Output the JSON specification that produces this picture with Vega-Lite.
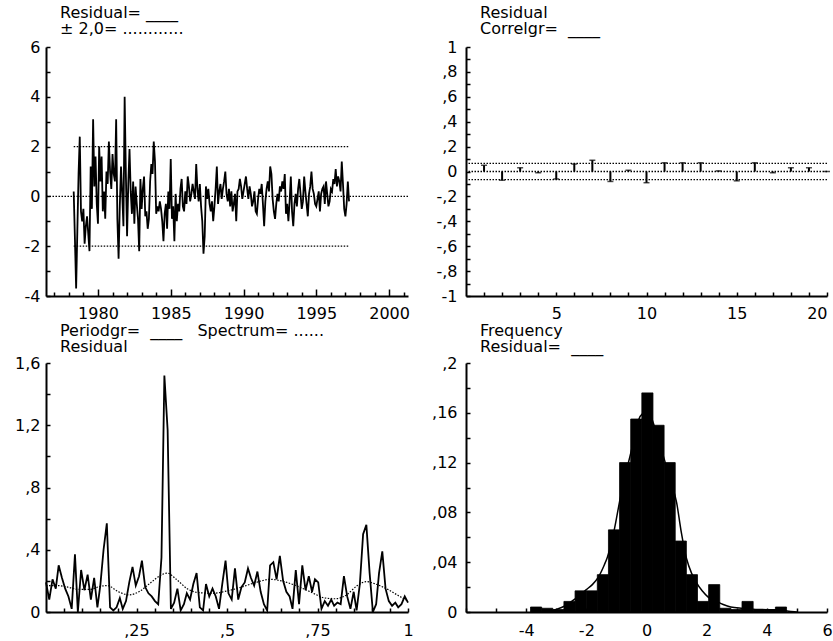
{
  "$schema": "https://vega.github.io/schema/vega-lite/v6.json",
  "padding": {"left": 14, "top": 5, "right": 5, "bottom": 5},
  "columns": 2,
  "spacing": {"row": 67, "column": 58},
  "bounds": "flush",
  "config": {
    "view": {"stroke": null},
    "font": "DejaVu Sans",
    "axis": {"domainColor": "black", "domainWidth": 2, "tickColor": "black", "tickWidth": 1.5, "tickSize": -4, "labelFont": "DejaVu Sans", "labelFontSize": 16, "labelColor": "black", "grid": false, "labelFlush": false},
    "axisX": {"labelPadding": 14},
    "axisY": {"labelPadding": 10},
    "title": {"font": "DejaVu Sans", "fontSize": 16, "fontWeight": "normal", "color": "black", "anchor": "start", "frame": "group", "dx": 14, "lineHeight": 16, "offset": 2}
  },
  "datasets": {
    "resid": [
      {"t":1978.333,"r":0.2},{"t":1978.417,"r":-1.7},{"t":1978.5,"r":-3.7},{"t":1978.583,"r":-1.4},{"t":1978.667,"r":0.9},{"t":1978.75,"r":2.4},{"t":1978.833,"r":-0.6},{"t":1978.917,"r":-1.0},
      {"t":1979.0,"r":-0.5},{"t":1979.083,"r":-1.9},{"t":1979.167,"r":-1.2},{"t":1979.25,"r":-0.8},{"t":1979.333,"r":-1.5},{"t":1979.417,"r":-2.2},{"t":1979.5,"r":1.2},{"t":1979.583,"r":-0.5},{"t":1979.667,"r":3.1},{"t":1979.75,"r":0.4},{"t":1979.833,"r":1.6},{"t":1979.917,"r":-0.3},
      {"t":1980.0,"r":-1.1},{"t":1980.083,"r":2.0},{"t":1980.167,"r":0.6},{"t":1980.25,"r":1.6},{"t":1980.333,"r":-0.6},{"t":1980.417,"r":0.2},{"t":1980.5,"r":-0.9},{"t":1980.583,"r":1.0},{"t":1980.667,"r":0.5},{"t":1980.75,"r":2.2},{"t":1980.833,"r":1.0},{"t":1980.917,"r":0.3},
      {"t":1981.0,"r":1.7},{"t":1981.083,"r":0.9},{"t":1981.167,"r":0.6},{"t":1981.25,"r":3.1},{"t":1981.333,"r":-0.9},{"t":1981.417,"r":-2.5},{"t":1981.5,"r":-0.4},{"t":1981.583,"r":1.2},{"t":1981.667,"r":0.1},{"t":1981.75,"r":-1.2},{"t":1981.833,"r":4.0},{"t":1981.917,"r":0.9},
      {"t":1982.0,"r":-1.6},{"t":1982.083,"r":0.5},{"t":1982.167,"r":1.9},{"t":1982.25,"r":0.2},{"t":1982.333,"r":-0.7},{"t":1982.417,"r":0.6},{"t":1982.5,"r":-1.1},{"t":1982.583,"r":0.4},{"t":1982.667,"r":-0.3},{"t":1982.75,"r":-0.9},{"t":1982.833,"r":-2.2},{"t":1982.917,"r":0.7},
      {"t":1983.0,"r":-0.5},{"t":1983.083,"r":0.3},{"t":1983.167,"r":0.8},{"t":1983.25,"r":-0.8},{"t":1983.333,"r":-0.6},{"t":1983.417,"r":-1.3},{"t":1983.5,"r":-0.9},{"t":1983.583,"r":0.6},{"t":1983.667,"r":1.3},{"t":1983.75,"r":0.9},{"t":1983.833,"r":2.2},{"t":1983.917,"r":1.4},
      {"t":1984.0,"r":-0.7},{"t":1984.083,"r":-0.4},{"t":1984.167,"r":-0.6},{"t":1984.25,"r":-0.2},{"t":1984.333,"r":-0.5},{"t":1984.417,"r":-1.0},{"t":1984.5,"r":-1.8},{"t":1984.583,"r":-0.7},{"t":1984.667,"r":-0.3},{"t":1984.75,"r":-1.3},{"t":1984.833,"r":0.2},{"t":1984.917,"r":-0.5},
      {"t":1985.0,"r":1.5},{"t":1985.083,"r":-0.9},{"t":1985.167,"r":-0.4},{"t":1985.25,"r":-1.8},{"t":1985.333,"r":0.1},{"t":1985.417,"r":-1.0},{"t":1985.5,"r":-0.3},{"t":1985.583,"r":-0.6},{"t":1985.667,"r":0.3},{"t":1985.75,"r":0.7},{"t":1985.833,"r":-0.4},{"t":1985.917,"r":-0.6},
      {"t":1986.0,"r":0.2},{"t":1986.083,"r":-0.3},{"t":1986.167,"r":0.8},{"t":1986.25,"r":0.4},{"t":1986.333,"r":-0.2},{"t":1986.417,"r":0.1},{"t":1986.5,"r":0.5},{"t":1986.583,"r":0.2},{"t":1986.667,"r":-0.1},{"t":1986.75,"r":1.3},{"t":1986.833,"r":0.3},{"t":1986.917,"r":-0.2},
      {"t":1987.0,"r":0.5},{"t":1987.083,"r":-0.4},{"t":1987.167,"r":-1.0},{"t":1987.25,"r":-2.3},{"t":1987.333,"r":-1.6},{"t":1987.417,"r":0.4},{"t":1987.5,"r":-0.1},{"t":1987.583,"r":0.3},{"t":1987.667,"r":-0.3},{"t":1987.75,"r":-0.6},{"t":1987.833,"r":-0.2},{"t":1987.917,"r":-1.0},
      {"t":1988.0,"r":-0.4},{"t":1988.083,"r":0.3},{"t":1988.167,"r":1.2},{"t":1988.25,"r":-0.3},{"t":1988.333,"r":0.2},{"t":1988.417,"r":0.5},{"t":1988.5,"r":-0.1},{"t":1988.583,"r":0.3},{"t":1988.667,"r":0.6},{"t":1988.75,"r":1.0},{"t":1988.833,"r":0.1},{"t":1988.917,"r":-0.2},
      {"t":1989.0,"r":0.3},{"t":1989.083,"r":-0.4},{"t":1989.167,"r":0.2},{"t":1989.25,"r":-0.6},{"t":1989.333,"r":-0.3},{"t":1989.417,"r":0.1},{"t":1989.5,"r":-1.0},{"t":1989.583,"r":0.2},{"t":1989.667,"r":0.3},{"t":1989.75,"r":0.7},{"t":1989.833,"r":0.4},{"t":1989.917,"r":-0.1},
      {"t":1990.0,"r":0.2},{"t":1990.083,"r":0.5},{"t":1990.167,"r":0.8},{"t":1990.25,"r":0.3},{"t":1990.333,"r":-0.1},{"t":1990.417,"r":0.4},{"t":1990.5,"r":0.1},{"t":1990.583,"r":-0.4},{"t":1990.667,"r":-0.2},{"t":1990.75,"r":0.2},{"t":1990.833,"r":-0.6},{"t":1990.917,"r":-0.7},
      {"t":1991.0,"r":-0.1},{"t":1991.083,"r":0.3},{"t":1991.167,"r":0.1},{"t":1991.25,"r":0.5},{"t":1991.333,"r":-0.3},{"t":1991.417,"r":-1.2},{"t":1991.5,"r":-0.2},{"t":1991.583,"r":0.3},{"t":1991.667,"r":0.6},{"t":1991.75,"r":0.2},{"t":1991.833,"r":1.2},{"t":1991.917,"r":0.9},
      {"t":1992.0,"r":-0.1},{"t":1992.083,"r":-0.6},{"t":1992.167,"r":-0.9},{"t":1992.25,"r":-0.3},{"t":1992.333,"r":0.1},{"t":1992.417,"r":-0.2},{"t":1992.5,"r":0.4},{"t":1992.583,"r":0.2},{"t":1992.667,"r":0.6},{"t":1992.75,"r":0.3},{"t":1992.833,"r":0.9},{"t":1992.917,"r":-0.7},
      {"t":1993.0,"r":-0.3},{"t":1993.083,"r":-1.0},{"t":1993.167,"r":-0.2},{"t":1993.25,"r":0.8},{"t":1993.333,"r":-0.6},{"t":1993.417,"r":-1.2},{"t":1993.5,"r":-0.3},{"t":1993.583,"r":0.1},{"t":1993.667,"r":-0.4},{"t":1993.75,"r":0.3},{"t":1993.833,"r":0.7},{"t":1993.917,"r":0.1},
      {"t":1994.0,"r":-0.5},{"t":1994.083,"r":-0.2},{"t":1994.167,"r":0.8},{"t":1994.25,"r":0.2},{"t":1994.333,"r":-0.3},{"t":1994.417,"r":-0.8},{"t":1994.5,"r":0.1},{"t":1994.583,"r":0.4},{"t":1994.667,"r":1.0},{"t":1994.75,"r":0.3},{"t":1994.833,"r":0.1},{"t":1994.917,"r":-0.3},
      {"t":1995.0,"r":-0.4},{"t":1995.083,"r":-0.1},{"t":1995.167,"r":0.2},{"t":1995.25,"r":-0.6},{"t":1995.333,"r":0.1},{"t":1995.417,"r":0.3},{"t":1995.5,"r":0.4},{"t":1995.583,"r":-0.3},{"t":1995.667,"r":0.6},{"t":1995.75,"r":0.1},{"t":1995.833,"r":-0.4},{"t":1995.917,"r":-0.2},
      {"t":1996.0,"r":0.3},{"t":1996.083,"r":0.2},{"t":1996.167,"r":0.7},{"t":1996.25,"r":0.5},{"t":1996.333,"r":1.1},{"t":1996.417,"r":0.4},{"t":1996.5,"r":0.8},{"t":1996.583,"r":0.6},{"t":1996.667,"r":0.2},{"t":1996.75,"r":1.4},{"t":1996.833,"r":0.5},{"t":1996.917,"r":-0.5},
      {"t":1997.0,"r":-0.8},{"t":1997.083,"r":-0.3},{"t":1997.167,"r":0.6},{"t":1997.25,"r":-0.2}
    ],
    "band": [
      {"y": 2, "a": 1978.333, "b": 1997.25},
      {"y": -2, "a": 1978.333, "b": 1997.25}
    ],
    "zero": [{"y": 0}],
    "acf": [
      {"lag":1,"c":0.05},{"lag":2,"c":-0.07},{"lag":3,"c":0.03},{"lag":4,"c":-0.01},{"lag":5,"c":-0.06},
      {"lag":6,"c":0.06},{"lag":7,"c":0.09},{"lag":8,"c":-0.08},{"lag":9,"c":0.01},{"lag":10,"c":-0.09},
      {"lag":11,"c":0.07},{"lag":12,"c":0.07},{"lag":13,"c":0.07},{"lag":14,"c":0.005},{"lag":15,"c":-0.075},
      {"lag":16,"c":0.07},{"lag":17,"c":-0.01},{"lag":18,"c":0.03},{"lag":19,"c":0.03},{"lag":20,"c":0.0}
    ],
    "acfband": [{"y": 0.065}, {"y": 0}, {"y": -0.065}],
    "pgram": [
      {"f":0,"p":0.19},{"f":0.009,"p":0.08},{"f":0.018,"p":0.21},{"f":0.027,"p":0.15},{"f":0.035,"p":0.30},{"f":0.044,"p":0.22},{"f":0.053,"p":0.15},{"f":0.062,"p":0.10},{"f":0.071,"p":0.02},{"f":0.080,"p":0.37},
      {"f":0.088,"p":0.0},{"f":0.097,"p":0.27},{"f":0.106,"p":0.14},{"f":0.115,"p":0.24},{"f":0.124,"p":0.08},{"f":0.133,"p":0.22},{"f":0.142,"p":0.03},{"f":0.150,"p":0.17},{"f":0.159,"p":0.40},{"f":0.168,"p":0.57},
      {"f":0.177,"p":0.03},{"f":0.186,"p":0.01},{"f":0.195,"p":0.03},{"f":0.204,"p":0.09},{"f":0.212,"p":0.02},{"f":0.221,"p":0.07},{"f":0.230,"p":0.19},{"f":0.239,"p":0.29},{"f":0.248,"p":0.17},{"f":0.257,"p":0.23},
      {"f":0.265,"p":0.33},{"f":0.274,"p":0.16},{"f":0.283,"p":0.12},{"f":0.292,"p":0.10},{"f":0.301,"p":0.07},{"f":0.310,"p":0.05},{"f":0.319,"p":0.35},{"f":0.327,"p":1.52},{"f":0.336,"p":1.17},{"f":0.345,"p":0.02},
      {"f":0.354,"p":0.06},{"f":0.363,"p":0.15},{"f":0.372,"p":0.01},{"f":0.381,"p":0.05},{"f":0.389,"p":0.12},{"f":0.398,"p":0.08},{"f":0.407,"p":0.18},{"f":0.416,"p":0.25},{"f":0.425,"p":0.03},{"f":0.434,"p":0.01},
      {"f":0.442,"p":0.18},{"f":0.451,"p":0.10},{"f":0.460,"p":0.15},{"f":0.469,"p":0.10},{"f":0.478,"p":0.02},{"f":0.487,"p":0.18},{"f":0.496,"p":0.33},{"f":0.504,"p":0.12},{"f":0.513,"p":0.08},{"f":0.522,"p":0.28},
      {"f":0.531,"p":0.08},{"f":0.540,"p":0.16},{"f":0.549,"p":0.19},{"f":0.558,"p":0.28},{"f":0.566,"p":0.22},{"f":0.575,"p":0.17},{"f":0.584,"p":0.26},{"f":0.593,"p":0.13},{"f":0.602,"p":0.05},{"f":0.611,"p":0.01},
      {"f":0.619,"p":0.30},{"f":0.628,"p":0.32},{"f":0.637,"p":0.21},{"f":0.646,"p":0.36},{"f":0.655,"p":0.20},{"f":0.664,"p":0.13},{"f":0.673,"p":0.10},{"f":0.681,"p":0.02},{"f":0.690,"p":0.27},{"f":0.699,"p":0.05},
      {"f":0.708,"p":0.30},{"f":0.717,"p":0.14},{"f":0.726,"p":0.23},{"f":0.735,"p":0.13},{"f":0.743,"p":0.21},{"f":0.752,"p":0.19},{"f":0.761,"p":0.02},{"f":0.770,"p":0.07},{"f":0.779,"p":0.04},{"f":0.788,"p":0.08},
      {"f":0.796,"p":0.04},{"f":0.805,"p":0.06},{"f":0.814,"p":0.05},{"f":0.823,"p":0.23},{"f":0.832,"p":0.10},{"f":0.841,"p":0.02},{"f":0.850,"p":0.13},{"f":0.858,"p":0.01},{"f":0.867,"p":0.18},{"f":0.876,"p":0.50},
      {"f":0.885,"p":0.56},{"f":0.894,"p":0.25},{"f":0.903,"p":0.0},{"f":0.912,"p":0.05},{"f":0.920,"p":0.25},{"f":0.929,"p":0.39},{"f":0.938,"p":0.15},{"f":0.947,"p":0.07},{"f":0.956,"p":0.04},{"f":0.965,"p":0.06},
      {"f":0.973,"p":0.03},{"f":0.982,"p":0.05},{"f":0.991,"p":0.10},{"f":1.0,"p":0.06}
    ],
    "spec": [
      {"f":0,"s":0.17},{"f":0.03,"s":0.17},{"f":0.06,"s":0.16},{"f":0.09,"s":0.145},{"f":0.12,"s":0.145},{"f":0.15,"s":0.165},{"f":0.17,"s":0.17},{"f":0.2,"s":0.13},{"f":0.23,"s":0.11},{"f":0.26,"s":0.135},
      {"f":0.29,"s":0.19},{"f":0.32,"s":0.24},{"f":0.335,"s":0.25},{"f":0.36,"s":0.21},{"f":0.39,"s":0.15},{"f":0.42,"s":0.125},{"f":0.46,"s":0.12},{"f":0.5,"s":0.135},{"f":0.54,"s":0.16},{"f":0.58,"s":0.19},
      {"f":0.62,"s":0.21},{"f":0.65,"s":0.2},{"f":0.69,"s":0.17},{"f":0.73,"s":0.13},{"f":0.77,"s":0.09},{"f":0.8,"s":0.085},{"f":0.83,"s":0.11},{"f":0.86,"s":0.17},{"f":0.885,"s":0.195},{"f":0.91,"s":0.18},
      {"f":0.94,"s":0.15},{"f":0.97,"s":0.11},{"f":1.0,"s":0.07}
    ],
    "hist": [
      {"s":-3.855,"e":-3.485,"d":0.004},{"s":-3.485,"e":-3.115,"d":0.003},{"s":-3.115,"e":-2.745,"d":0.002},{"s":-2.745,"e":-2.375,"d":0.0085},
      {"s":-2.375,"e":-2.005,"d":0.017},{"s":-2.005,"e":-1.635,"d":0.017},{"s":-1.635,"e":-1.265,"d":0.030},{"s":-1.265,"e":-0.895,"d":0.066},
      {"s":-0.895,"e":-0.525,"d":0.120},{"s":-0.525,"e":-0.155,"d":0.155},{"s":-0.155,"e":0.215,"d":0.176},{"s":0.215,"e":0.585,"d":0.150},
      {"s":0.585,"e":0.955,"d":0.120},{"s":0.955,"e":1.325,"d":0.057},{"s":1.325,"e":1.695,"d":0.030},{"s":1.695,"e":2.065,"d":0.0085},
      {"s":2.065,"e":2.435,"d":0.022},{"s":2.435,"e":2.805,"d":0.003},{"s":2.805,"e":3.175,"d":0.002},{"s":3.175,"e":3.545,"d":0.0085},
      {"s":3.545,"e":3.915,"d":0.002},{"s":3.915,"e":4.285,"d":0.002},{"s":4.285,"e":4.655,"d":0.004}
    ],
    "dens": [
      {"x":-3.3,"d":0.0},{"x":-3.0,"d":0.002},{"x":-2.7,"d":0.005},{"x":-2.35,"d":0.011},{"x":-2.0,"d":0.018},{"x":-1.8,"d":0.022},{"x":-1.6,"d":0.028},{"x":-1.4,"d":0.038},{"x":-1.3,"d":0.044},{"x":-1.15,"d":0.057},
      {"x":-1.0,"d":0.075},{"x":-0.9,"d":0.088},{"x":-0.7,"d":0.11},{"x":-0.55,"d":0.125},{"x":-0.4,"d":0.14},{"x":-0.25,"d":0.155},{"x":-0.1,"d":0.16},{"x":0.03,"d":0.162},{"x":0.15,"d":0.157},{"x":0.25,"d":0.15},
      {"x":0.4,"d":0.138},{"x":0.6,"d":0.122},{"x":0.8,"d":0.105},{"x":1.0,"d":0.088},{"x":1.15,"d":0.065},{"x":1.33,"d":0.043},{"x":1.5,"d":0.031},{"x":1.65,"d":0.024},{"x":1.85,"d":0.017},{"x":2.05,"d":0.012},
      {"x":2.3,"d":0.009},{"x":2.55,"d":0.006},{"x":2.8,"d":0.004},{"x":3.2,"d":0.003},{"x":3.7,"d":0.002},{"x":4.3,"d":0.0018},{"x":4.8,"d":0.0005},{"x":5.0,"d":0.0}
    ]
  },
  "concat": [
    {
      "width": 362, "height": 249,
      "title": {"text": ["Residual= ____", "± 2,0= ............"]},
      "layer": [
        {
          "data": {"name": "resid"},
          "mark": {"type": "line", "color": "black", "strokeWidth": 1.8},
          "encoding": {
            "x": {"field": "t", "type": "quantitative",
                  "scale": {"domain": [1976.43, 2001.3], "nice": false, "zero": false},
                  "axis": {"title": null, "labelOverlap": false, "tickCount": 200, "labelPadding": 16,
                           "tickSize": {"condition": {"test": "datum.value % 5 == 0", "value": -7}, "value": -4},
                           "values": [1977,1978,1979,1980,1981,1982,1983,1984,1985,1986,1987,1988,1989,1990,1991,1992,1993,1994,1995,1996,1997,1998,1999,2000,2001],
                           "labelExpr": "datum.value % 5 ? '' : '' + datum.value"}},
            "y": {"field": "r", "type": "quantitative",
                  "scale": {"domain": [-4, 6], "nice": false},
                  "axis": {"title": null, "labelOverlap": false, "tickCount": 200, "values": [-4,-3,-2,-1,0,1,2,3,4,5,6],
                           "labelExpr": "datum.value % 2 ? '' : '' + datum.value"}}
          }
        },
        {
          "data": {"name": "zero"},
          "mark": {"type": "rule", "color": "black", "strokeDash": [1.5, 1.5], "strokeWidth": 1.3},
          "encoding": {"y": {"field": "y", "type": "quantitative"}}
        },
        {
          "data": {"name": "band"},
          "mark": {"type": "rule", "color": "black", "strokeDash": [1.5, 1.5], "strokeWidth": 1.3},
          "encoding": {
            "x": {"field": "a", "type": "quantitative"},
            "x2": {"field": "b"},
            "y": {"field": "y", "type": "quantitative"}
          }
        }
      ]
    },
    {
      "width": 361, "height": 249,
      "title": {"text": ["Residual", "Correlgr=\u00a0\u00a0____"]},
      "layer": [
        {
          "data": {"name": "acf"},
          "mark": {"type": "rule", "color": "black", "strokeWidth": 2},
          "encoding": {
            "x": {"field": "lag", "type": "quantitative",
                  "scale": {"domain": [0, 20], "nice": false},
                  "axis": {"title": null, "labelOverlap": false, "labelFlush": true, "tickCount": 200, "labelPadding": 13,
                           "values": [1,2,3,4,5,6,7,8,9,10,11,12,13,14,15,16,17,18,19,20],
                           "labelExpr": "datum.value % 5 ? '' : '' + datum.value"}},
            "y": {"field": "c", "type": "quantitative",
                  "scale": {"domain": [-1, 1], "nice": false},
                  "axis": {"title": null, "labelOverlap": false, "tickCount": 200, "labelPadding": 13,
                           "values": [-1,-0.9,-0.8,-0.7,-0.6,-0.5,-0.4,-0.3,-0.2,-0.1,0,0.1,0.2,0.3,0.4,0.5,0.6,0.7,0.8,0.9,1],
                           "labelExpr": "round(datum.value*10) % 2 ? '' : replace(replace('' + datum.value, '0.', ','), '.', ',')"}},
            "y2": {"datum": 0}
          }
        },
        {
          "data": {"name": "acfband"},
          "mark": {"type": "rule", "color": "black", "strokeDash": [1.5, 1.5], "strokeWidth": 1.3},
          "encoding": {"y": {"field": "y", "type": "quantitative"}}
        },
        {
          "data": {"name": "acf"},
          "mark": {"type": "tick", "color": "black", "orient": "horizontal", "size": 6, "thickness": 1.5},
          "encoding": {
            "x": {"field": "lag", "type": "quantitative"},
            "y": {"field": "c", "type": "quantitative"}
          }
        }
      ]
    },
    {
      "width": 362, "height": 249,
      "title": {"text": ["Periodgr=\u00a0\u00a0____\u00a0\u00a0\u00a0Spectrum= ......", "Residual"], "offset": 0},
      "layer": [
        {
          "data": {"name": "pgram"},
          "mark": {"type": "line", "color": "black", "strokeWidth": 1.8},
          "encoding": {
            "x": {"field": "f", "type": "quantitative",
                  "scale": {"domain": [0, 1], "nice": false},
                  "axis": {"title": null, "labelOverlap": false, "tickCount": 200,
                           "values": [0.05,0.1,0.15,0.2,0.25,0.3,0.35,0.4,0.45,0.5,0.55,0.6,0.65,0.7,0.75,0.8,0.85,0.9,0.95,1],
                           "labelExpr": "round(datum.value*100) % 25 ? '' : replace(replace('' + datum.value, '0.', ','), '.', ',')"}},
            "y": {"field": "p", "type": "quantitative",
                  "scale": {"domain": [0, 1.6], "nice": false},
                  "axis": {"title": null, "labelOverlap": false, "tickCount": 200, "values": [0,0.2,0.4,0.6,0.8,1,1.2,1.4,1.6],
                           "labelExpr": "round(datum.value*5) % 2 ? '' : replace(replace('' + datum.value, '0.', ','), '.', ',')"}}
          }
        },
        {
          "data": {"name": "spec"},
          "mark": {"type": "line", "color": "black", "strokeDash": [1.5, 1.5], "strokeWidth": 1.2, "interpolate": "monotone"},
          "encoding": {
            "x": {"field": "f", "type": "quantitative"},
            "y": {"field": "s", "type": "quantitative"}
          }
        }
      ]
    },
    {
      "width": 361, "height": 249,
      "title": {"text": ["Frequency", "Residual=\u00a0\u00a0____"], "offset": 0},
      "layer": [
        {
          "data": {"name": "hist"},
          "mark": {"type": "rect", "color": "black", "stroke": "black", "strokeWidth": 0.8},
          "encoding": {
            "x": {"field": "s", "type": "quantitative",
                  "scale": {"domain": [-6, 6], "nice": false},
                  "axis": {"title": null, "labelOverlap": false, "tickCount": 200, "values": [-6,-5,-4,-3,-2,-1,0,1,2,3,4,5,6],
                           "labelExpr": "(datum.value % 2) || datum.value == -6 ? '' : '' + datum.value"}},
            "x2": {"field": "e"},
            "y": {"field": "d", "type": "quantitative",
                  "scale": {"domain": [0, 0.2], "nice": false},
                  "axis": {"title": null, "labelOverlap": false, "tickCount": 200, "labelPadding": 13,
                           "values": [0,0.02,0.04,0.06,0.08,0.1,0.12,0.14,0.16,0.18,0.2],
                           "labelExpr": "round(datum.value*50) % 2 ? '' : replace(replace('' + datum.value, '0.', ','), '.', ',')"}},
            "y2": {"datum": 0}
          }
        },
        {
          "data": {"name": "dens"},
          "mark": {"type": "line", "color": "black", "strokeWidth": 1.5, "interpolate": "monotone"},
          "encoding": {
            "x": {"field": "x", "type": "quantitative"},
            "y": {"field": "d", "type": "quantitative"}
          }
        }
      ]
    }
  ]
}
